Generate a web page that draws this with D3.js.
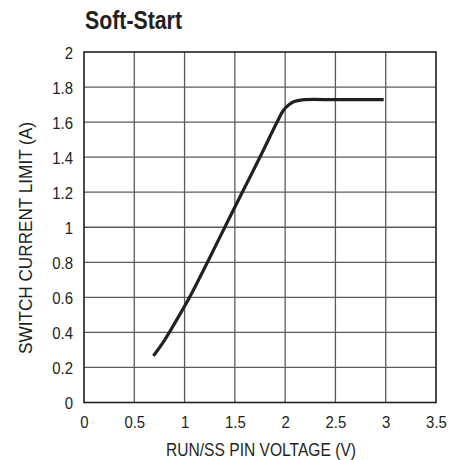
<!DOCTYPE html>
<html><head><meta charset="utf-8">
<script src="https://cdn.jsdelivr.net/npm/d3@7"></script>
<style>
body{margin:0;background:#fff;}
text{font-family:"Liberation Sans",Arial,sans-serif;fill:#231f20;}
</style></head>
<body><svg id="c" width="471" height="460"></svg>
<script>
const xTicks=[0,0.5,1,1.5,2,2.5,3,3.5];
const yTicks=[0,0.2,0.4,0.6,0.8,1,1.2,1.4,1.6,1.8,2];
const voltage=[0.69,0.80,0.93,1.05,1.24,1.40,1.565,1.745,1.92,1.98,2.04,2.09,2.17,2.5,2.98];
const current=[0.266,0.355,0.48,0.6,0.815,1.0,1.19,1.395,1.6,1.665,1.70,1.717,1.727,1.728,1.728];

const svg=d3.select("#c");
const L=84,T=52,R=436,B=402.5;
const SX=0.88;
const x=d3.scaleLinear().domain([0,3.5]).range([L,R]);
const y=d3.scaleLinear().domain([0,2]).range([B,T]);

// grid
svg.append("g").selectAll("line").data(xTicks.slice(1,-1)).join("line")
 .attr("x1",d=>x(d)).attr("x2",d=>x(d)).attr("y1",T).attr("y2",B)
 .attr("stroke","#5a5a5a").attr("stroke-width",1.3);
svg.append("g").selectAll("line").data(yTicks.slice(1,-1)).join("line")
 .attr("y1",d=>y(d)).attr("y2",d=>y(d)).attr("x1",L).attr("x2",R)
 .attr("stroke","#5a5a5a").attr("stroke-width",1.3);
svg.append("rect").attr("x",L).attr("y",T).attr("width",R-L).attr("height",B-T)
 .attr("fill","none").attr("stroke","#231f20").attr("stroke-width",1.6);

// axes labels via d3 axes
const xa=svg.append("g").attr("transform",`translate(0,${B})`)
 .call(d3.axisBottom(x).tickValues(xTicks).tickFormat(d3.format("~g")).tickSize(0).tickPadding(0));
xa.select(".domain").remove();
xa.selectAll("text").attr("y",26).attr("dy",0).attr("transform",`scale(${SX},1)`)
 .style("font-size","17px").attr("fill","#231f20");
const ya=svg.append("g").attr("transform",`translate(${L},0)`)
 .call(d3.axisLeft(y).tickValues(yTicks).tickFormat(d3.format("~g")).tickSize(0).tickPadding(0));
ya.select(".domain").remove();
ya.selectAll("text").attr("x",-11/SX).attr("dy","0.36em").attr("transform",`scale(${SX},1)`)
 .style("font-size","17px").attr("fill","#231f20");

// curve
svg.append("path").datum(voltage.map((v,i)=>[v,current[i]]))
 .attr("d",d3.line().x(d=>x(d[0])).y(d=>y(d[1])).curve(d3.curveCatmullRom.alpha(0.5)))
 .attr("fill","none").attr("stroke","#231f20").attr("stroke-width",3.2).attr("stroke-linecap","butt");

// titles
svg.append("text").attr("x",85).attr("y",28.5).text("Soft-Start")
 .attr("textLength",97).attr("lengthAdjust","spacingAndGlyphs")
 .style("font-size","26px").style("font-weight","bold");
svg.append("text").attr("x",166).attr("y",456)
 .attr("textLength",190).attr("lengthAdjust","spacingAndGlyphs")
 .style("font-size","17.5px").text("RUN/SS PIN VOLTAGE (V)");
svg.append("text").attr("transform","translate(32,354) rotate(-90)")
 .attr("textLength",232).attr("lengthAdjust","spacingAndGlyphs")
 .style("font-size","17.5px").text("SWITCH CURRENT LIMIT (A)");
</script></body></html>
